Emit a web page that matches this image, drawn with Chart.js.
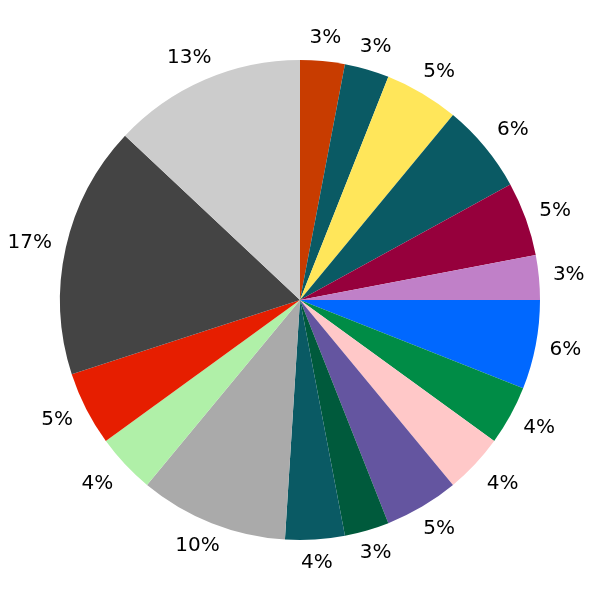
<!DOCTYPE html>
<html>
<head>
<meta charset="utf-8">
<script src="https://cdn.jsdelivr.net/npm/chart.js@4"></script>
<style>
  html, body { margin: 0; padding: 0; background: #ffffff; }
  #wrap { width: 600px; height: 600px; }
</style>
</head>
<body>
<div id="wrap"><canvas id="c" width="600" height="600"></canvas></div>
<script>
const categories = ["A","B","C","D","E","F","G","H","I","J","K","L","M","N","O","P","Q"];
const values = [3, 3, 5, 6, 5, 3, 6, 4, 4, 5, 3, 4, 10, 4, 5, 17, 13];
const colors = ["#c83c00","#0a5a64","#ffe65a","#0a5a64","#96003c","#c080c8","#0068ff","#008c46",
                "#ffc8c8","#6455a0","#005a3c","#0a5a64","#aaaaaa","#b0f0a8","#e61e00","#444444","#cccccc"];

const outsideLabels = {
  id: 'outsideLabels',
  afterDatasetsDraw(chart) {
    const ctx = chart.ctx;
    const meta = chart.getDatasetMeta(0);
    const total = values.reduce((a, b) => a + b, 0);
    const fontSize = 20, padX = 6, padY = 3, offset = 8;
    ctx.save();
    ctx.font = fontSize + 'px "DejaVu Sans"';
    ctx.fillStyle = '#000000';
    ctx.textAlign = 'center';
    ctx.textBaseline = 'middle';
    meta.data.forEach((arc, i) => {
      const text = Math.round(values[i] / total * 100) + '%';
      const mid = (arc.startAngle + arc.endAngle) / 2;
      const vx = Math.cos(mid), vy = Math.sin(mid);
      const w = ctx.measureText(text).width + 2 * padX;
      const h = fontSize * 1.2 + 2 * padY;
      const vs = 1 / Math.max(Math.abs(vx), Math.abs(vy));
      const r = arc.outerRadius + offset;
      const x = arc.x + vx * r + (w / 2) * vx * vs;
      const y = arc.y + vy * r + (h / 2) * vy * vs;
      ctx.fillText(text, x, y);
    });
    ctx.restore();
  }
};

new Chart(document.getElementById('c'), {
  type: 'pie',
  data: {
    labels: categories,
    datasets: [{ data: values, backgroundColor: colors, borderWidth: 0 }]
  },
  options: {
    responsive: false,
    animation: false,
    layout: { padding: 60 },
    plugins: { legend: { display: false }, tooltip: { enabled: false } }
  },
  plugins: [outsideLabels]
});
</script>
</body>
</html>
